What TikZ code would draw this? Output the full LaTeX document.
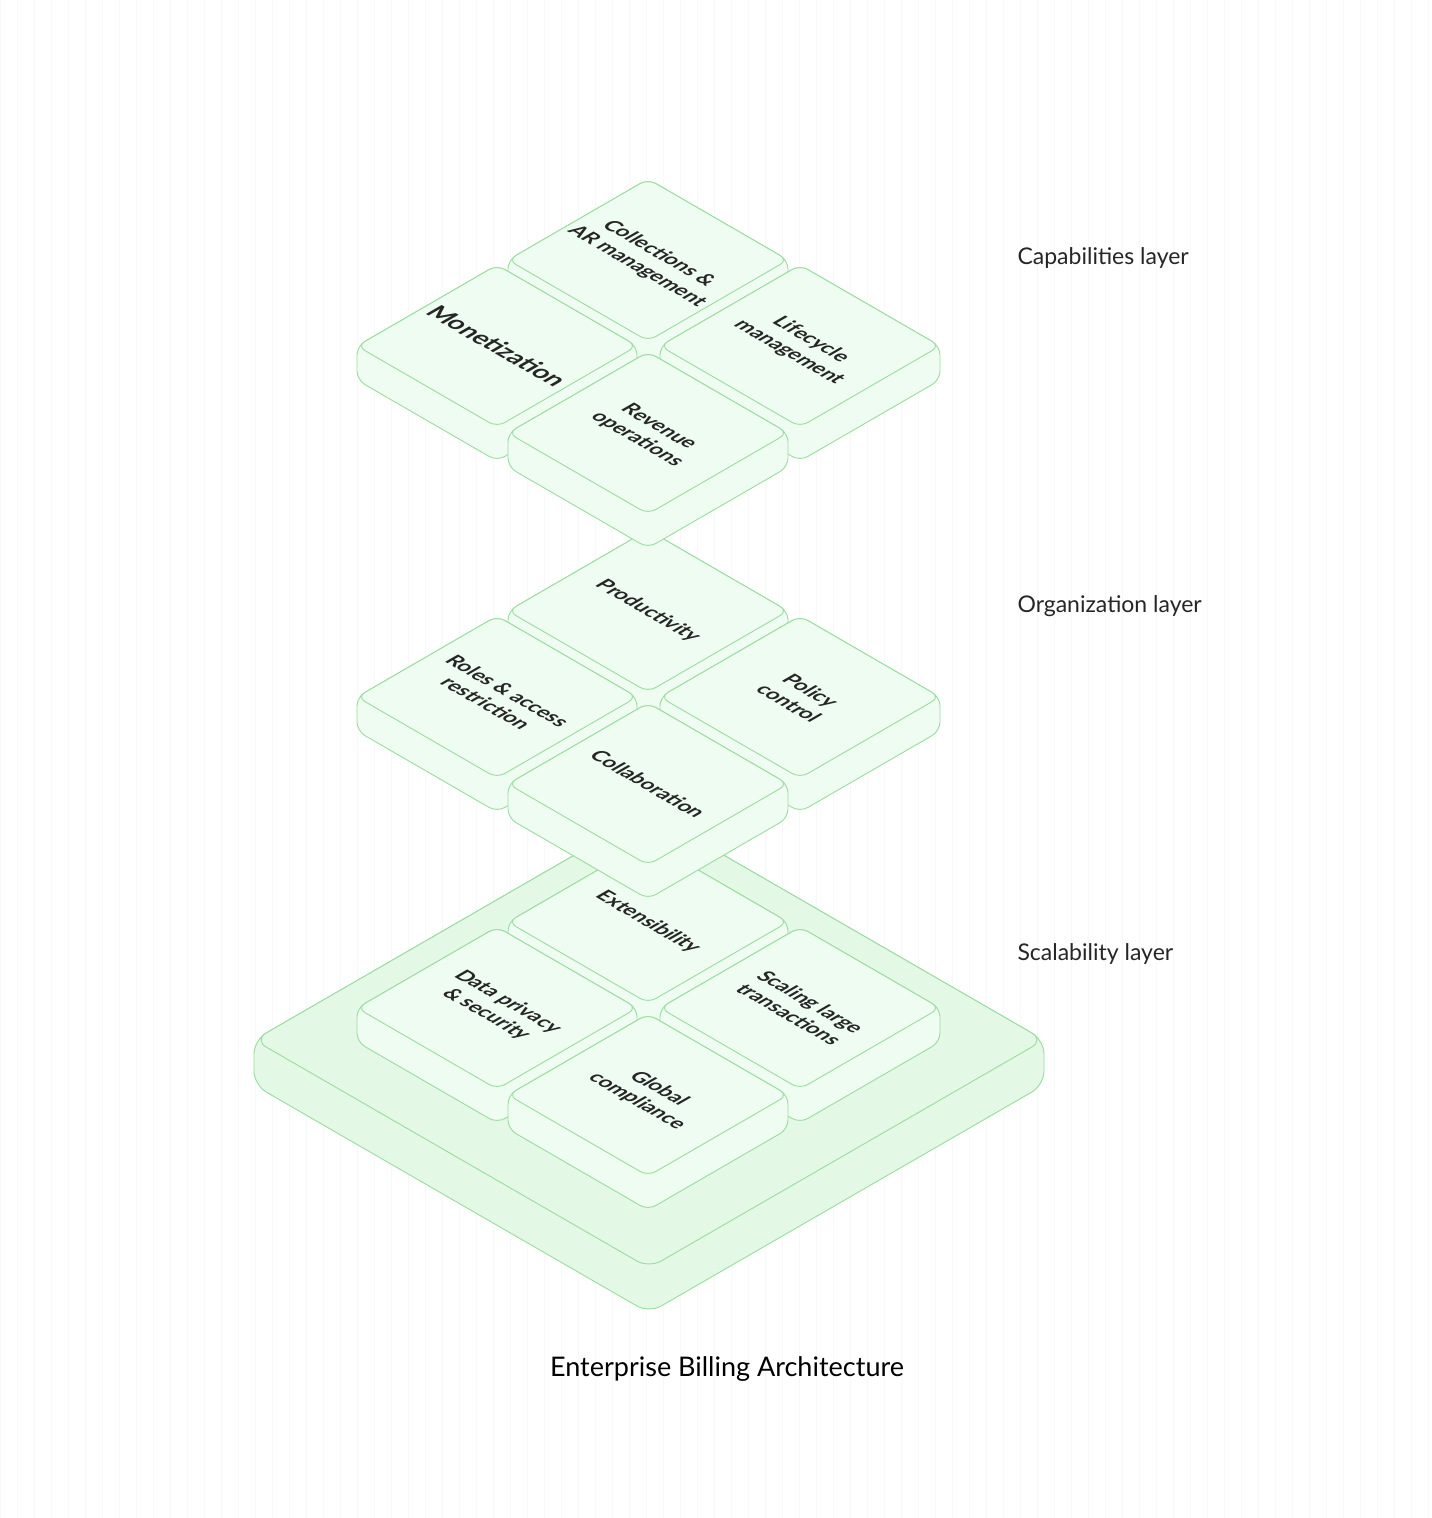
\documentclass[tikz,border=0pt]{standalone}
\usepackage{fontspec}
\setmainfont{Lato}
\definecolor{edge}{HTML}{9ADC9F}
\definecolor{tilefill}{HTML}{EFFCF1}
\definecolor{platefill}{HTML}{E3F8E5}
\definecolor{gridc}{HTML}{F7F8F7}
\newcommand{\tile}[4][20.5]{%
  \fill[tilefill,draw=edge,line width=0.9pt,rounded corners=9pt]
    (#2-140,#3) -- (#2-140,#3+34) -- (#2,#3+115) -- (#2+140,#3+34) -- (#2+140,#3) -- (#2,#3-81) -- cycle;
  \fill[tilefill,draw=edge,line width=0.9pt,rounded corners=9pt]
    (#2-140,#3) -- (#2,#3+81) -- (#2+140,#3) -- (#2,#3-81) -- cycle;
  \node[tiletext,font=\fontsize{#1}{25}\selectfont\bfseries] at (#2,#3) {#4};}
\begin{document}
\begin{tikzpicture}[x=1pt,y=-1pt,
  tiletext/.style={align=center,text=black!85,transform shape,cm={0.866,-0.5,0.866,0.5,(0,0)}},
  lbl/.style={anchor=west,font=\fontsize{23}{27}\selectfont,text=black!85}]
\useasboundingbox (0,0) rectangle (1432,1518);
\fill[white] (0,0) rectangle (1432,1518);
\foreach \i in {0,17,...,1432} \draw[gridc,line width=0.6pt] (\i,0) -- (\i,1518);
% base plate
\fill[platefill,draw=edge,line width=0.9pt,rounded corners=14pt]
  (254,1040) -- (254,1085) -- (649,1313) -- (1044,1085) -- (1044,1040) -- (649,812) -- cycle;
\fill[platefill,draw=edge,line width=0.9pt,rounded corners=14pt]
  (254,1040) -- (649,1268) -- (1044,1040) -- (649,812) -- cycle;
% scalability layer
\tile{648}{922}{Extensibility}
\tile{497}{1008}{Data privacy\\\& security}
\tile{800}{1008}{Scaling large\\transactions}
\tile{648}{1095}{Global\\compliance}
% organization layer
\tile{648}{611}{Productivity}
\tile{497}{697}{Roles \& access\\restriction}
\tile{800}{697}{Policy\\control}
\tile{648}{784}{Collaboration}
% capabilities layer
\tile{648}{260}{Collections \&\\AR management}
\tile[25]{497}{346}{Monetization}
\tile{800}{346}{Lifecycle\\management}
\tile{648}{433}{Revenue\\operations}
\node[lbl] (l1) at (1014,258) {Capabilities layer};
\node[lbl] (l2) at (1014,606) {Organization layer};
\node[lbl] (l3) at (1014,954) {Scalability layer};
\node[font=\fontsize{27}{32}\selectfont,text=black] (title) at (727,1369) {Enterprise Billing Architecture};
\end{tikzpicture}
\end{document}
